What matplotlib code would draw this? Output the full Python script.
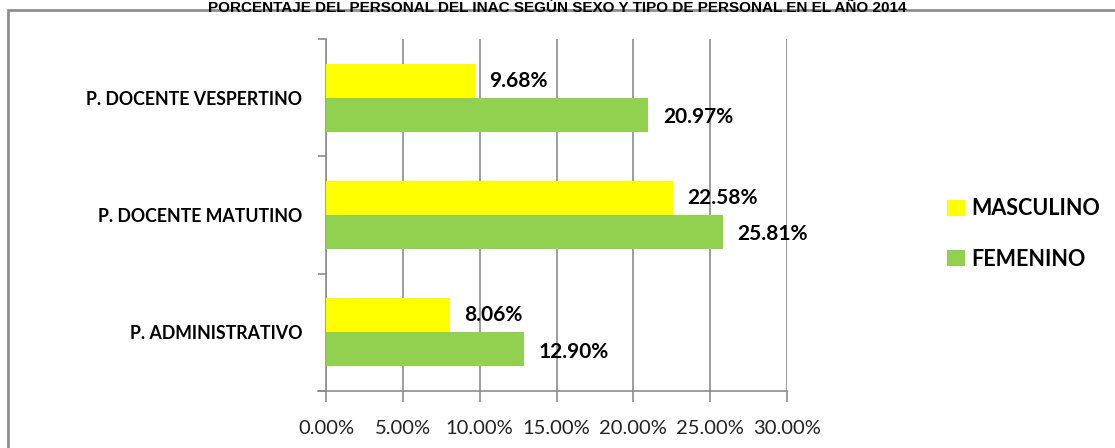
import numpy as np
import matplotlib.pyplot as plt
from matplotlib.patches import Rectangle

categorias = ['P. ADMINISTRATIVO', 'P. DOCENTE MATUTINO', 'P. DOCENTE VESPERTINO']
masculino = [8.06, 22.58, 9.68]
femenino = [12.90, 25.81, 20.97]
xticks = [0, 5, 10, 15, 20, 25, 30]

amarillo = '#ffff00'
verde = '#92d050'
gris = '#8c8c8c'

plt.rcParams['font.family'] = ['Lato', 'DejaVu Sans']

W, H = 1115, 448
fig = plt.figure(figsize=(W / 100, H / 100), dpi=100)

# marco del grafico
fig.patches.append(Rectangle((8 / W, -0.1), 1.2, 1 - 10 / H + 0.1,
                             transform=fig.transFigure, fill=False,
                             edgecolor='#8f8f8f', lw=2.0))

fig.text(0.5, 1 - 1 / H, 'PORCENTAJE DEL PERSONAL DEL INAC SEGÚN SEXO Y TIPO DE PERSONAL EN EL AÑO 2014',
         ha='center', va='top', fontsize=11, fontweight='bold',
         family=['Liberation Sans Narrow', 'Liberation Sans', 'DejaVu Sans'])

ax = fig.add_axes([326 / W, 1 - 391 / H, (787 - 326) / W, (391 - 39) / H])

y = np.arange(len(categorias))
h = 0.29
ax.barh(y + h / 2, masculino, height=h, color=amarillo, label='MASCULINO', zorder=3)
ax.barh(y - h / 2, femenino, height=h, color=verde, label='FEMENINO', zorder=3)

for i in range(len(categorias)):
    ax.text(masculino[i] + 0.95, y[i] + h / 2, '%.2f%%' % masculino[i],
            va='center', ha='left', fontsize=15, fontweight='bold', zorder=4)
    ax.text(femenino[i] + 0.95, y[i] - h / 2 - 0.02, '%.2f%%' % femenino[i],
            va='center', ha='left', fontsize=15, fontweight='bold', zorder=4)

ax.set_xlim(0, 30)
ax.set_ylim(-0.5, 2.5)
ax.set_xticks(xticks)
ax.set_xticklabels(['%.2f%%' % v for v in xticks], fontsize=14.5, color='#222222')
ax.set_yticks(y)
ax.set_yticklabels(categorias, fontsize=12.8, fontweight='bold')
ax.set_yticks([-0.5, 0.5, 1.5, 2.5], minor=True)
ax.tick_params(axis='y', which='major', length=0, pad=17)
ax.tick_params(axis='y', which='minor', length=6, color=gris, width=1.2)
ax.tick_params(axis='x', length=8, color=gris, width=1.2, pad=13)

ax.grid(axis='x', color=gris, lw=1.2, zorder=0)
for s in ['top', 'right']:
    ax.spines[s].set_visible(False)
ax.spines['left'].set_color(gris)
ax.spines['bottom'].set_color(gris)
ax.spines['left'].set_linewidth(1.2)
ax.spines['bottom'].set_linewidth(1.2)
# pequena prolongacion del eje x hacia la izquierda
ax.plot([-0.55, 0], [-0.5, -0.5], color=gris, lw=1.2, clip_on=False, zorder=5)

fig.legend(loc='center left', bbox_to_anchor=(928 / W, 1 - 234 / H), frameon=False,
           prop={'size': 15.5, 'weight': 'bold'}, handlelength=0.8, handleheight=0.8,
           handletextpad=0.3, labelspacing=1.35)

fig.savefig('out.png', dpi=100)
